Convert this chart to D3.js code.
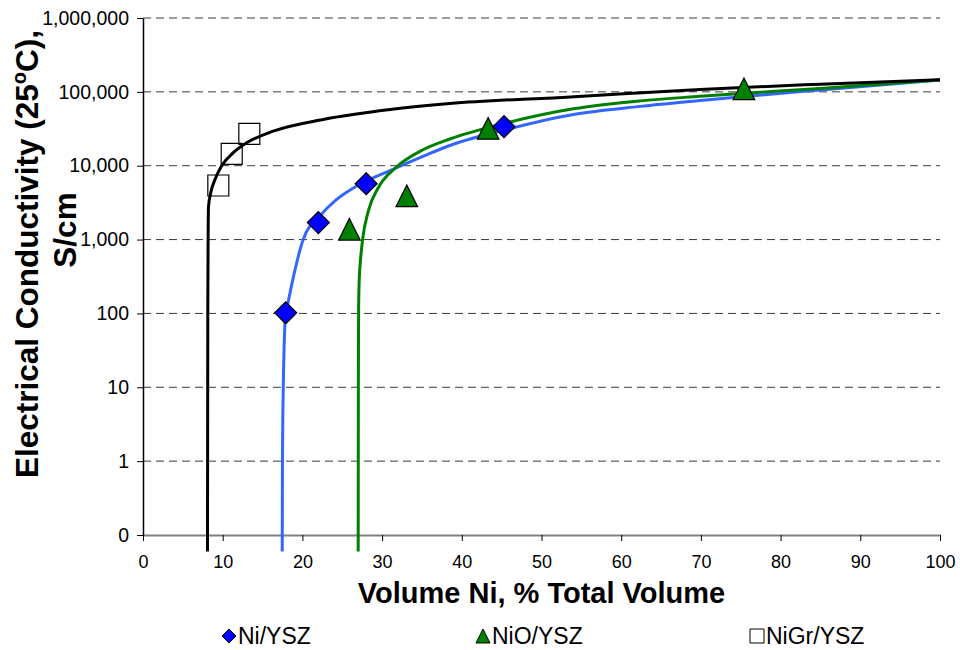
<!DOCTYPE html>
<html>
<head>
<meta charset="utf-8">
<script src="https://cdn.jsdelivr.net/npm/d3@7"></script>
<style>
  body { margin: 0; background: #fff; }
  svg text { font-family: Arial, "Liberation Sans", sans-serif; }
</style>
</head>
<body>
<svg id="chart" width="960" height="650"></svg>
<script>
// Measured conductivity of the three cermet types
const niYsz = [[17.9, 102], [22.0, 1700], [28.0, 5700], [45.3, 33800]];
const nioYsz = [[25.9, 1380], [33.1, 3900], [43.3, 32000], [75.4, 110000]];
const nigrYsz = [[9.45, 5400], [11.13, 14500], [13.34, 27000]];

// Percolation fit curves for each series
const niYszFit = [[17.47, 0.06], [17.5, 1], [17.6, 10], [17.9, 100], [18.2, 141], [18.9, 322],
  [20.1, 1000], [22.2, 2090], [24.3, 3500], [26.8, 5300], [31.0, 8600], [35.2, 13500],
  [38.5, 18800], [45.6, 30900], [54.0, 49300], [62.4, 63600], [69.9, 76400], [85.4, 107000], [100, 145000]];
const nioYszFit = [[27.0, 0.06], [27.02, 10], [27.05, 100], [27.12, 263], [27.3, 543], [27.55, 1000],
  [28.3, 2500], [29.5, 5000], [31.8, 9600], [35.2, 16600], [38.5, 23000], [45.6, 38000],
  [54.0, 58900], [62.4, 75500], [69.9, 87100], [85.4, 112000], [100, 145000]];
const nigrYszFit = [[8.09, 0.06], [8.13, 100], [8.17, 1000], [8.22, 2800], [8.5, 4300], [9.03, 6500],
  [9.87, 10000], [11.33, 15000], [13.0, 20400], [16.35, 29400], [22.6, 42300], [31.0, 57700],
  [38.5, 69500], [53.6, 85500], [69.9, 108000], [85.0, 127000], [100, 146000]];

const xTicks = [0, 10, 20, 30, 40, 50, 60, 70, 80, 90, 100];
const yTicks = [0.1, 1, 10, 100, 1000, 10000, 100000, 1000000];
const yTickLabels = ["0", "1", "10", "100", "1,000", "10,000", "100,000", "1,000,000"];
const seriesNames = ["Ni/YSZ", "NiO/YSZ", "NiGr/YSZ"];

const svg = d3.select("#chart");
const plot = { left: 143, right: 940, top: 18, bottom: 535 };

const x = d3.scaleLinear().domain([0, 100]).range([plot.left, plot.right]);
const y = d3.scaleLog().domain([0.1, 1000000]).range([plot.bottom, plot.top]);

// dashed horizontal gridlines
svg.append("g").selectAll("line").data(yTicks.slice(1)).join("line")
  .attr("x1", plot.left).attr("x2", plot.right)
  .attr("y1", d => y(d)).attr("y2", d => y(d))
  .attr("stroke", "#3a3a3a").attr("stroke-width", 1)
  .attr("stroke-dasharray", "8,5");

// x axis (grey baseline)
const xAxis = svg.append("g").attr("transform", `translate(0,${plot.bottom})`)
  .call(d3.axisBottom(x).tickValues(xTicks).tickSize(6).tickSizeOuter(0).tickFormat(d3.format("d")));
xAxis.select(".domain").attr("stroke", "#808080").attr("stroke-width", 2);
xAxis.selectAll(".tick line").attr("stroke", "#000");
xAxis.selectAll(".tick text").attr("font-size", 18).attr("fill", "#000").attr("dy", "1.35em");

// y axis
const yAxis = svg.append("g").attr("transform", `translate(${plot.left},0)`)
  .call(d3.axisLeft(y).tickValues(yTicks).tickSize(6).tickSizeOuter(0)
    .tickFormat((d, i) => yTickLabels[i]));
yAxis.select(".domain").attr("stroke", "#000").attr("stroke-width", 1.5);
yAxis.selectAll(".tick line").attr("stroke", "#000");
yAxis.selectAll(".tick text").attr("font-size", 19.5).attr("fill", "#000").attr("x", -14);

// fit curves
const line = d3.line().x(d => x(d[0])).y(d => y(d[1])).curve(d3.curveMonotoneX);
const curves = [
  { data: niYszFit, color: "#3366ff" },
  { data: nioYszFit, color: "#008000" },
  { data: nigrYszFit, color: "#000000" }
];
svg.append("g").selectAll("path").data(curves).join("path")
  .attr("d", d => line(d.data))
  .attr("fill", "none").attr("stroke", d => d.color).attr("stroke-width", 3);

// marker shapes
const diamond = s => `M0,${-s}L${s},0L0,${s}L${-s},0Z`;
const triangle = s => `M0,${-s}L${s},${s}L${-s},${s}Z`;
const square = s => `M${-s},${-s}H${s}V${s}H${-s}Z`;

svg.append("g").selectAll("path").data(nioYsz).join("path")
  .attr("transform", d => `translate(${x(d[0])},${y(d[1])})`)
  .attr("d", triangle(10.8)).attr("fill", "#008000").attr("stroke", "#000").attr("stroke-width", 1.2);

svg.append("g").selectAll("path").data(niYsz).join("path")
  .attr("transform", d => `translate(${x(d[0])},${y(d[1])})`)
  .attr("d", diamond(11)).attr("fill", "#0000ff").attr("stroke", "#000").attr("stroke-width", 1.2);

svg.append("g").selectAll("path").data(nigrYsz).join("path")
  .attr("transform", d => `translate(${x(d[0])},${y(d[1])})`)
  .attr("d", square(10.5)).attr("fill", "none").attr("stroke", "#000").attr("stroke-width", 1.2);

// axis titles
svg.append("text").attr("x", (plot.left + plot.right) / 2).attr("y", 603)
  .attr("text-anchor", "middle").attr("font-size", 29).attr("font-weight", "bold")
  .text("Volume Ni, % Total Volume");

const yTitle = svg.append("g").attr("transform", "rotate(-90)");
const t1 = yTitle.append("text").attr("x", -254).attr("y", 38)
  .attr("text-anchor", "middle").attr("font-size", 31.5).attr("font-weight", "bold");
t1.append("tspan").text("Electrical Conductivity (25");
t1.append("tspan").attr("font-size", 20).attr("dy", -12).text("o");
t1.append("tspan").attr("dy", 12).text("C),");
yTitle.append("text").attr("x", -230).attr("y", 76)
  .attr("text-anchor", "middle").attr("font-size", 31.5).attr("font-weight", "bold")
  .text("S/cm");

// legend
const legendItems = [
  { name: seriesNames[0], shape: diamond(7), fill: "#0000ff", cx: 229 },
  { name: seriesNames[1], shape: triangle(7), fill: "#008000", cx: 483 },
  { name: seriesNames[2], shape: square(7), fill: "none", cx: 757 }
];
const lg = svg.append("g").selectAll("g").data(legendItems).join("g");
lg.append("path").attr("transform", d => `translate(${d.cx},636)`)
  .attr("d", d => d.shape).attr("fill", d => d.fill).attr("stroke", "#000").attr("stroke-width", 1);
lg.append("text").attr("x", d => d.cx + 9).attr("y", 644)
  .attr("font-size", 23).text(d => d.name);
</script>
</body>
</html>
